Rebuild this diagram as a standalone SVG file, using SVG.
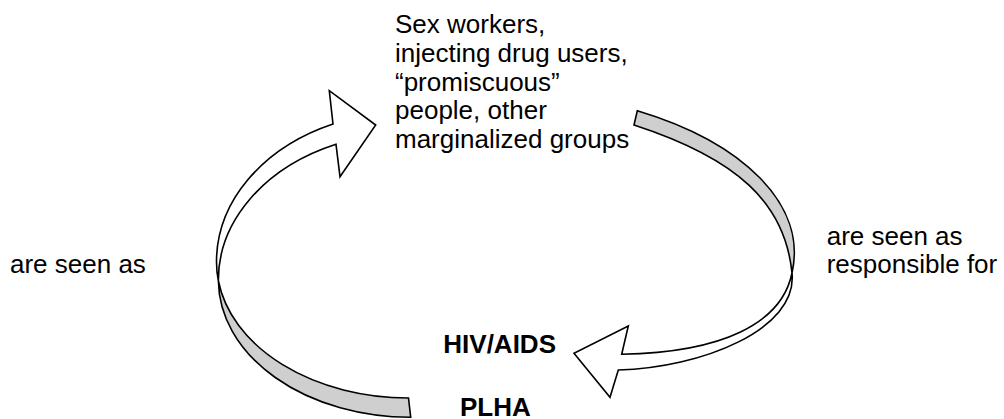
<svg xmlns="http://www.w3.org/2000/svg" width="1004" height="419" viewBox="0 0 1004 419">
<style>
text{font-family:"Liberation Sans",Arial,sans-serif;font-size:26px;fill:#000}
.b{font-weight:bold}
.front{fill:#fff;stroke:#000;stroke-width:1.6;stroke-linejoin:miter}
.back{fill:#cfcfcf;stroke:#000;stroke-width:1.6;stroke-linejoin:miter}
</style>
<rect width="1004" height="419" fill="#fff"/>
<g id="connectors">
  <g id="arrow-left">
    <path class="back" d="M 218.4,281 A 192 136 0 0 0 408.5,398 L 410.7,417.3 A 192 137.3 0 0 1 218.4,281 Z"/>
    <path class="front" d="M 333,124 L 329.3,90.7 L 375.7,125 L 340,176.7 L 336,144.3 A 192 147 0 0 0 218.4,281 A 192 136 0 0 1 216.5,262 A 192 150 0 0 1 333,124 Z"/>
  </g>
  <g id="arrow-right">
    <path class="back" d="M 637.3,110.7 C 743.5,142.5 807.5,205 792,273 C 785,203.1 737.6,158.7 634,125 Z"/>
    <path class="front" d="M 621.7,354.3 L 628.3,326 L 574,353.3 L 610,397.3 L 618.3,370 C 700,368 798,330 792,273 C 781.6,323.8 722,352.3 621.7,354.3 Z"/>
  </g>
</g>
<g id="groups">
  <text x="395" y="33.3">Sex workers,</text>
  <text x="395" y="62">injecting drug users,</text>
  <text x="395" y="90.7">“promiscuous”</text>
  <text x="395" y="119.4">people, other</text>
  <text x="395" y="148.1">marginalized groups</text>
</g>
<g id="hivaids"><text class="b" x="443.3" y="353.3">HIV/AIDS</text></g>
<g id="plha"><text class="b" x="460" y="416">PLHA</text></g>
<g id="label-left"><text x="10" y="272.7">are seen as</text></g>
<g id="label-right">
  <text x="826.7" y="245">are seen as</text>
  <text x="826.7" y="273.3">responsible for</text>
</g>
</svg>
